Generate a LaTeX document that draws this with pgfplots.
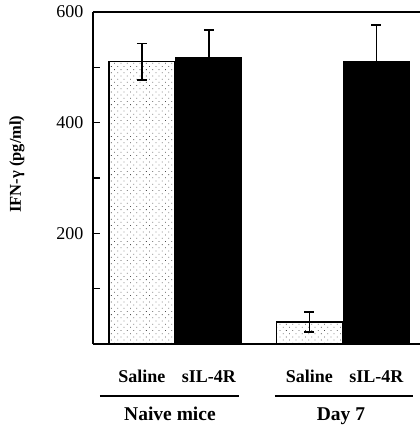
\documentclass[border=0pt]{standalone}
\usepackage{pgfplots}
\pgfplotsset{compat=1.18}
\usepackage{fontspec}
\setmainfont{Liberation Serif}
\usetikzlibrary{patterns.meta}
\begin{document}
\begin{tikzpicture}
\useasboundingbox (-93pt,-82pt) rectangle (327pt,344pt);
\begin{axis}[
  scale only axis, width=327pt, height=332pt,
  xmin=0.269, xmax=5.15, ymin=0, ymax=600,
  axis x line=box, axis y line=left,
  axis line style={-, line width=1.5pt},
  clip=false,
  tick align=inside, major tick length=7pt,
  every tick/.style={black, line width=1.3pt},
  ytick={100,200,300,400,500,600},
  yticklabels={,200,,400,,600},
  yticklabel style={font=\fontsize{18}{20}\selectfont, xshift=-6pt},
  /pgf/number format/assume math mode=true,
  xtick={1,2,3.5,4.5},
  xticklabels={Saline,sIL-4R,Saline,sIL-4R},
  xticklabel pos=lower,
  x tick style={draw=none},
  xticklabel style={font=\bfseries\fontsize{18}{20}\selectfont, anchor=base, yshift=-38pt},
  ylabel={IFN-γ (pg/ml)},
  every axis y label/.style={at={(axis description cs:-0.2324,0.542)}, rotate=90, anchor=center, font=\bfseries\fontsize{16.5}{18}\selectfont},
]
\addplot[ybar, bar width=66pt, bar shift=0pt, draw=black, line width=1.3pt,
  pattern={Dots[distance=4.5pt,radius=0.55pt,angle=45]}, pattern color=black!70,
  error bars/.cd, y dir=both, y explicit,
  error bar style={line width=1.6pt, black},
  error mark options={rotate=90, mark size=5pt, line width=1.6pt, black}]
  coordinates {(1,510) +- (0,33) (3.5,40) +- (0,18)};
\addplot[ybar, bar width=66pt, bar shift=0pt, draw=black, fill=black, line width=1pt,
  error bars/.cd, y dir=both, y explicit,
  error bar style={line width=1.6pt, black},
  error mark options={rotate=90, mark size=5pt, line width=1.6pt, black}]
  coordinates {(2,517) +- (0,50) (4.5,511) +- (0,66)};
\draw[line width=1.3pt] ([yshift=-52pt]axis cs:0.373,0) -- ([yshift=-52pt]axis cs:2.448,0);
\draw[line width=1.3pt] ([yshift=-52pt]axis cs:2.985,0) -- ([yshift=-52pt]axis cs:5.045,0);
\node[anchor=base, font=\bfseries\fontsize{19.5}{22}\selectfont] at ([yshift=-76pt]axis cs:1.418,0) {Naive mice};
\node[anchor=base, font=\bfseries\fontsize{19.5}{22}\selectfont] at ([yshift=-76pt]axis cs:3.97,0) {Day 7};
\end{axis}
\end{tikzpicture}
\end{document}
